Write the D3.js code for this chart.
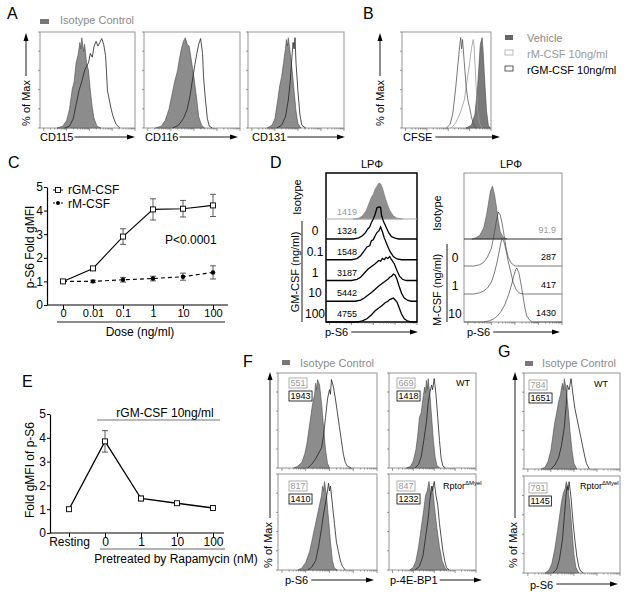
<!DOCTYPE html>
<html><head><meta charset="utf-8">
<script src="https://cdn.jsdelivr.net/npm/d3@7"></script>
<style>body{margin:0;background:#fff} svg{display:block} text{font-family:'Liberation Sans',Arial,sans-serif}</style>
</head><body><svg id="c" width="627" height="593"></svg>
<script>
// ---------- DATA ----------
// Panel C
const doses = ["0","0.01","0.1","1","10","100"];
const gmMean = [1.0,1.55,2.9,4.05,4.08,4.22];
const gmErr  = [0.03,0.07,0.33,0.45,0.35,0.47];
const mMean  = [1.0,1.0,1.07,1.12,1.2,1.38];
const mErr   = [0.03,0.05,0.1,0.1,0.15,0.28];
const yTicks = [0,1,2,3,4,5];
// Panel E
const rapaCats = ["Resting","0","1","10","100"];
const rapaMean = [1.0,3.85,1.45,1.25,1.05];
const rapaErr  = [0,0.45,0.1,0.04,0.03];
// Panel A histograms ([relative intensity, relative count])
const a1Iso = [[0.18,0],[0.24,0.02],[0.28,0.08],[0.31,0.2],[0.34,0.42],[0.36,0.5],[0.38,0.7],[0.4,0.78],[0.42,0.92],[0.43,0.85],[0.44,0.97],[0.46,0.82],[0.47,0.9],[0.49,0.7],[0.51,0.62],[0.53,0.4],[0.55,0.22],[0.57,0.1],[0.6,0.02],[0.64,0]];
const a1Ab  = [[0.26,0],[0.31,0.02],[0.35,0.1],[0.38,0.25],[0.41,0.4],[0.44,0.5],[0.47,0.62],[0.49,0.66],[0.51,0.7],[0.53,0.8],[0.55,0.76],[0.57,0.88],[0.59,0.93],[0.61,0.88],[0.63,0.92],[0.65,0.96],[0.67,0.9],[0.69,0.78],[0.7,0.6],[0.71,0.4],[0.73,0.3],[0.75,0.2],[0.77,0.12],[0.8,0.04],[0.84,0]];
const a2Iso = [[0.12,0],[0.18,0.02],[0.22,0.08],[0.26,0.2],[0.29,0.35],[0.32,0.5],[0.35,0.62],[0.37,0.75],[0.39,0.85],[0.41,0.93],[0.43,0.97],[0.45,0.9],[0.47,0.88],[0.49,0.75],[0.52,0.55],[0.55,0.3],[0.57,0.12],[0.6,0.03],[0.63,0]];
const a2Ab  = [[0.3,0],[0.36,0.03],[0.41,0.1],[0.45,0.2],[0.48,0.35],[0.51,0.55],[0.53,0.68],[0.55,0.8],[0.57,0.9],[0.59,0.96],[0.61,0.8],[0.62,0.55],[0.64,0.3],[0.66,0.1],[0.68,0.02],[0.71,0]];
const a3Iso = [[0.2,0],[0.25,0.03],[0.28,0.1],[0.31,0.3],[0.33,0.45],[0.35,0.55],[0.37,0.7],[0.39,0.85],[0.4,0.95],[0.41,0.88],[0.42,0.97],[0.44,0.8],[0.46,0.62],[0.48,0.4],[0.5,0.18],[0.52,0.05],[0.55,0]];
const a3Ab  = [[0.3,0],[0.35,0.03],[0.39,0.12],[0.42,0.3],[0.44,0.5],[0.46,0.8],[0.47,0.92],[0.48,0.85],[0.49,0.97],[0.5,0.7],[0.52,0.4],[0.54,0.15],[0.56,0.03],[0.6,0]];
// Panel B
const bGM  = [[0.5,0],[0.54,0.04],[0.57,0.15],[0.6,0.4],[0.63,0.7],[0.65,0.9],[0.66,0.97],[0.67,0.85],[0.68,0.95],[0.7,0.7],[0.72,0.45],[0.74,0.3],[0.76,0.22],[0.78,0.12],[0.8,0.05],[0.83,0]];
const bM   = [[0.55,0],[0.6,0.05],[0.65,0.15],[0.7,0.3],[0.73,0.5],[0.76,0.7],[0.78,0.85],[0.8,0.95],[0.81,0.88],[0.83,0.5],[0.85,0.2],[0.87,0.05],[0.9,0]];
const bVeh = [[0.72,0],[0.78,0.03],[0.82,0.15],[0.85,0.45],[0.87,0.75],[0.88,0.9],[0.9,0.97],[0.91,0.85],[0.93,0.5],[0.95,0.18],[0.97,0.03],[0.99,0]];
// Panel D
const dLeftRows = ["0","0.1","1","10","100"];
const dLeftVals = ["1324","1548","3187","5442","4755"];
const dLeftIsoVal = "1419";
const dLIso = [[0.3,0],[0.36,0.02],[0.4,0.08],[0.44,0.2],[0.47,0.38],[0.5,0.55],[0.52,0.62],[0.54,0.75],[0.56,0.82],[0.58,0.9],[0.6,0.88],[0.62,0.78],[0.64,0.62],[0.67,0.4],[0.7,0.22],[0.74,0.08],[0.78,0.02],[0.84,0]];
const dLCurves = [
 [[0.3,0],[0.36,0.03],[0.4,0.08],[0.43,0.15],[0.46,0.25],[0.48,0.3],[0.5,0.42],[0.52,0.5],[0.54,0.62],[0.56,0.78],[0.58,0.8],[0.6,0.79],[0.61,0.6],[0.63,0.45],[0.66,0.3],[0.69,0.15],[0.72,0.06],[0.76,0.02],[0.8,0]],
 [[0.28,0],[0.34,0.03],[0.38,0.1],[0.42,0.22],[0.45,0.32],[0.48,0.35],[0.5,0.48],[0.52,0.5],[0.54,0.6],[0.56,0.68],[0.58,0.72],[0.6,0.82],[0.62,0.7],[0.64,0.55],[0.67,0.38],[0.7,0.22],[0.74,0.08],[0.78,0.02],[0.83,0]],
 [[0.28,0],[0.34,0.03],[0.38,0.08],[0.42,0.18],[0.46,0.28],[0.5,0.35],[0.54,0.42],[0.58,0.5],[0.6,0.48],[0.62,0.55],[0.64,0.52],[0.66,0.58],[0.68,0.55],[0.7,0.6],[0.72,0.52],[0.75,0.42],[0.78,0.25],[0.81,0.1],[0.84,0.03],[0.88,0]],
 [[0.32,0],[0.38,0.03],[0.42,0.08],[0.46,0.15],[0.5,0.22],[0.54,0.3],[0.58,0.38],[0.62,0.45],[0.65,0.5],[0.68,0.55],[0.7,0.6],[0.72,0.62],[0.74,0.68],[0.76,0.65],[0.78,0.55],[0.8,0.4],[0.83,0.2],[0.86,0.08],[0.9,0.02],[0.94,0]],
 [[0.35,0],[0.4,0.03],[0.45,0.08],[0.5,0.18],[0.54,0.28],[0.58,0.35],[0.62,0.42],[0.65,0.48],[0.68,0.52],[0.7,0.56],[0.72,0.58],[0.74,0.6],[0.76,0.55],[0.78,0.5],[0.8,0.38],[0.83,0.2],[0.86,0.08],[0.9,0.02],[0.94,0]]
];
const dRightRows = ["0","1","10"];
const dRightVals = ["287","417","1430"];
const dRightIsoVal = "91.9";
const dRIso = [[0.08,0],[0.12,0.02],[0.16,0.06],[0.2,0.18],[0.23,0.4],[0.25,0.6],[0.27,0.8],[0.29,0.88],[0.31,0.75],[0.33,0.55],[0.35,0.3],[0.37,0.12],[0.4,0.03],[0.44,0]];
const dRCurves = [
 [[0.1,0],[0.16,0.02],[0.2,0.06],[0.24,0.15],[0.28,0.3],[0.31,0.55],[0.33,0.75],[0.35,0.9],[0.37,0.85],[0.39,0.7],[0.41,0.5],[0.43,0.3],[0.45,0.15],[0.48,0.05],[0.52,0]],
 [[0.1,0],[0.16,0.02],[0.2,0.05],[0.24,0.1],[0.28,0.2],[0.31,0.35],[0.34,0.55],[0.36,0.72],[0.38,0.88],[0.39,0.93],[0.41,0.86],[0.43,0.72],[0.45,0.55],[0.48,0.35],[0.5,0.2],[0.53,0.08],[0.56,0.02],[0.6,0]],
 [[0.2,0],[0.26,0.02],[0.3,0.05],[0.34,0.1],[0.38,0.18],[0.42,0.3],[0.46,0.48],[0.49,0.65],[0.51,0.78],[0.53,0.88],[0.54,0.9],[0.56,0.82],[0.58,0.65],[0.6,0.45],[0.62,0.25],[0.64,0.1],[0.67,0.03],[0.7,0]]
];
// Panel F / G
const fTLIso = [[0.16,0],[0.2,0.02],[0.24,0.06],[0.27,0.15],[0.29,0.25],[0.31,0.4],[0.33,0.55],[0.35,0.7],[0.37,0.8],[0.38,0.92],[0.39,0.85],[0.4,0.96],[0.42,0.9],[0.44,0.7],[0.46,0.45],[0.48,0.2],[0.5,0.05],[0.52,0]];
const fTLAb  = [[0.3,0],[0.34,0.04],[0.38,0.1],[0.42,0.18],[0.44,0.22],[0.46,0.35],[0.48,0.55],[0.5,0.75],[0.52,0.85],[0.53,0.8],[0.54,0.96],[0.56,0.88],[0.58,0.75],[0.6,0.6],[0.62,0.45],[0.64,0.3],[0.66,0.15],[0.68,0.06],[0.7,0.02],[0.74,0]];
const fTRIso = [[0.2,0],[0.25,0.02],[0.28,0.08],[0.31,0.2],[0.33,0.35],[0.35,0.55],[0.37,0.6],[0.39,0.75],[0.41,0.88],[0.42,0.82],[0.43,0.95],[0.44,0.85],[0.45,0.97],[0.47,0.8],[0.49,0.55],[0.51,0.3],[0.53,0.12],[0.55,0.03],[0.58,0]];
const fTRAb  = [[0.3,0],[0.34,0.04],[0.37,0.12],[0.4,0.3],[0.43,0.5],[0.45,0.7],[0.47,0.82],[0.49,0.9],[0.5,0.85],[0.52,0.97],[0.54,0.8],[0.56,0.55],[0.58,0.3],[0.6,0.1],[0.62,0.02],[0.65,0]];
const fBLIso = [[0.2,0],[0.24,0.02],[0.28,0.08],[0.32,0.2],[0.35,0.35],[0.38,0.5],[0.4,0.6],[0.42,0.7],[0.44,0.8],[0.45,0.9],[0.46,0.85],[0.47,0.95],[0.49,0.8],[0.51,0.55],[0.53,0.3],[0.55,0.1],[0.57,0.02],[0.6,0]];
const fBLAb  = [[0.3,0],[0.34,0.03],[0.38,0.1],[0.41,0.25],[0.44,0.45],[0.46,0.6],[0.48,0.72],[0.5,0.85],[0.51,0.93],[0.52,0.85],[0.53,0.9],[0.55,0.7],[0.57,0.5],[0.59,0.3],[0.61,0.2],[0.63,0.1],[0.65,0.04],[0.68,0]];
const fBRIso = [[0.24,0],[0.28,0.03],[0.31,0.1],[0.34,0.25],[0.37,0.45],[0.4,0.65],[0.42,0.8],[0.44,0.85],[0.46,0.95],[0.48,0.8],[0.5,0.9],[0.52,0.7],[0.55,0.45],[0.58,0.25],[0.61,0.1],[0.64,0.03],[0.67,0]];
const fBRAb  = [[0.3,0],[0.35,0.04],[0.39,0.15],[0.42,0.35],[0.45,0.55],[0.47,0.75],[0.49,0.9],[0.5,0.85],[0.52,0.95],[0.54,0.8],[0.56,0.7],[0.58,0.5],[0.6,0.35],[0.62,0.2],[0.64,0.1],[0.66,0.03],[0.69,0]];
const gTIso  = [[0.18,0],[0.22,0.02],[0.25,0.08],[0.28,0.2],[0.3,0.35],[0.32,0.5],[0.34,0.6],[0.36,0.72],[0.38,0.8],[0.4,0.92],[0.41,0.85],[0.42,0.97],[0.44,0.85],[0.46,0.65],[0.48,0.4],[0.5,0.2],[0.52,0.06],[0.55,0]];
const gTAb   = [[0.28,0],[0.32,0.04],[0.36,0.12],[0.39,0.25],[0.42,0.45],[0.44,0.7],[0.45,0.9],[0.47,0.85],[0.49,0.97],[0.51,0.8],[0.53,0.65],[0.55,0.55],[0.57,0.45],[0.59,0.35],[0.61,0.25],[0.63,0.15],[0.65,0.06],[0.68,0]];
const gBIso  = [[0.22,0],[0.26,0.03],[0.29,0.1],[0.32,0.25],[0.35,0.45],[0.37,0.6],[0.39,0.75],[0.41,0.85],[0.43,0.9],[0.44,0.97],[0.46,0.9],[0.48,0.7],[0.5,0.45],[0.52,0.2],[0.54,0.06],[0.57,0]];
const gBAb   = [[0.3,0],[0.34,0.04],[0.37,0.15],[0.4,0.35],[0.42,0.6],[0.44,0.85],[0.45,0.92],[0.46,0.88],[0.47,0.97],[0.49,0.8],[0.51,0.55],[0.53,0.35],[0.55,0.18],[0.57,0.07],[0.59,0.02],[0.62,0]];
const fNums = {TL:["551","1943"],TR:["669","1418"],BL:["817","1410"],BR:["847","1232"]};
const gNums = {T:["784","1651"],B:["791","1145"]};

// ---------- HELPERS ----------
const svg = d3.select("#c");
const ISO_FILL = "#8c8c8c", ISO_EDGE = "#4a4a4a";

function txt(x,y,s,o={}){
  const t = svg.append("text").attr("x",x).attr("y",y).text(s)
    .attr("font-size",o.size||11).attr("fill",o.fill||"#000")
    .attr("text-anchor",o.anchor||"start");
  if(o.rotate) t.attr("transform",`rotate(-90,${x},${y})`);
  if(o.weight) t.attr("font-weight",o.weight);
  return t;
}
function ln(x1,y1,x2,y2,o={}){
  return svg.append("line").attr("x1",x1).attr("y1",y1).attr("x2",x2).attr("y2",y2)
    .attr("stroke",o.stroke||"#000").attr("stroke-width",o.sw||1).attr("stroke-dasharray",o.dash||null);
}
function arrowH(x1,x2,y){
  ln(x1,y,x2-6,y,{sw:0.9});
  svg.append("path").attr("d",`M${x2},${y}L${x2-8},${y-2.5}L${x2-8},${y+2.5}Z`).attr("fill","#000");
}
function arrowV(x,y1,y2){
  ln(x,y1,x,y2+6,{sw:0.9});
  svg.append("path").attr("d",`M${x},${y2}L${x-2.5},${y2+8}L${x+2.5},${y2+8}Z`).attr("fill","#000");
}
function boxFrame(x0,y0,w,h,o={}){
  svg.append("rect").attr("x",x0).attr("y",y0).attr("width",w).attr("height",h)
    .attr("fill","none").attr("stroke",o.stroke||"#8a8a8a").attr("stroke-width",o.sw||0.9);
  const yt = d3.scaleLinear().domain([0,100]).range([y0+h,y0]);
  if(!o.noLeft) yt.ticks(5).forEach(v=>ln(x0-2,yt(v),x0,yt(v),{stroke:"#555",sw:0.6}));
  const xl = d3.scaleLog().domain([10,100000]).range([x0+w*0.04,x0+w]);
  xl.ticks().forEach(v=>{
    const major = Math.abs(Math.log10(v)-Math.round(Math.log10(v)))<1e-6;
    ln(xl(v),y0+h,xl(v),y0+h+(major?3:1.5),{stroke:"#555",sw:0.6});
  });
}
function drawHist(xs,ys,pts,o){
  const data = o.extend ? [[0,0],...pts,[1,0]] : pts;
  if(o.fill){
    svg.append("path").datum(data)
      .attr("d",d3.area().x(d=>xs(d[0])).y0(ys(0)).y1(d=>ys(d[1])))
      .attr("fill",o.fill).attr("stroke",o.edge||ISO_EDGE).attr("stroke-width",0.6);
  } else {
    svg.append("path").datum(data)
      .attr("d",d3.line().x(d=>xs(d[0])).y(d=>ys(d[1])))
      .attr("fill","none").attr("stroke",o.stroke||"#222").attr("stroke-width",o.sw||0.8);
  }
}
function overlayBox(x0,y0,w,h,iso,ab){
  boxFrame(x0,y0,w,h);
  const xs = d3.scaleLinear().domain([0,1]).range([x0,x0+w]);
  const ys = d3.scaleLinear().domain([0,1]).range([y0+h,y0+h-h*0.97]);
  drawHist(xs,ys,iso,{fill:ISO_FILL});
  drawHist(xs,ys,ab,{stroke:"#222",sw:0.8});
}
function numTag(x,y,s,col){
  const t = txt(x+1.5,y+8,s,{size:9,fill:col});
  const w = t.node().getComputedTextLength();
  svg.append("rect").attr("x",x).attr("y",y).attr("width",w+3).attr("height",10)
    .attr("fill","none").attr("stroke",col).attr("stroke-width",0.8);
}
function rptor(x,y){
  const t = svg.append("text").attr("x",x).attr("y",y).attr("font-size",9);
  t.append("tspan").text("Rptor");
  t.append("tspan").text("ΔMyel").attr("font-size",6).attr("dy",-4);
}

// ---------- PANEL A ----------
txt(7,19,"A",{size:16});
svg.append("rect").attr("x",40).attr("y",19).attr("width",9).attr("height",5).attr("fill","#777");
txt(60,24,"Isotype Control",{size:11,fill:"#8a8a8a"});
arrowV(26,76,33);
txt(30,103,"% of Max",{size:11,anchor:"middle",rotate:true});
overlayBox(40,32,95,96,a1Iso,a1Ab);
overlayBox(144,32,96,96,a2Iso,a2Ab);
overlayBox(248,32,96,96,a3Iso,a3Ab);
[["CD115",40,135],["CD116",145,238],["CD131",252,345]].forEach(([s,x,x2])=>{
  const t = txt(x,141,s,{size:11});
  arrowH(x+t.node().getComputedTextLength()+1,x2,137);
});

// ---------- PANEL B ----------
txt(363,19,"B",{size:16});
arrowV(380,76,33);
txt(384,103,"% of Max",{size:11,anchor:"middle",rotate:true});
{
  const x0=402,y0=32,w=89,h=96;
  boxFrame(x0,y0,w,h);
  const xs=d3.scaleLinear().domain([0,1]).range([x0,x0+w]);
  const ys=d3.scaleLinear().domain([0,1]).range([y0+h,y0+h-h*0.97]);
  drawHist(xs,ys,bVeh,{fill:"#7a7a7a"});
  drawHist(xs,ys,bM,{stroke:"#9a9a9a",sw:0.8});
  drawHist(xs,ys,bGM,{stroke:"#555",sw:0.8});
  const t = txt(403,141,"CFSE",{size:11});
  arrowH(403+t.node().getComputedTextLength()+3,500,137);
}
svg.append("rect").attr("x",505).attr("y",35).attr("width",8).attr("height",5).attr("fill","#666");
svg.append("rect").attr("x",505).attr("y",50).attr("width",8).attr("height",5).attr("fill","none").attr("stroke","#aaa").attr("stroke-width",0.8);
svg.append("rect").attr("x",505).attr("y",66).attr("width",8).attr("height",5).attr("fill","none").attr("stroke","#333").attr("stroke-width",0.8);
txt(527,42,"Vehicle",{size:11,fill:"#8a8a8a"});
txt(527,58,"rM-CSF 10ng/ml",{size:11,fill:"#999"});
txt(527,74,"rGM-CSF 10ng/ml",{size:11,fill:"#000"});

// ---------- PANEL C ----------
txt(8,168,"C",{size:16});
{
  const cx = d3.scalePoint().domain(doses).range([63,213]);
  const cy = d3.scaleLinear().domain([0,5]).range([305,187]);
  const ya = svg.append("g").attr("transform","translate(47,0)")
    .call(d3.axisLeft(cy).tickValues(yTicks).tickFormat(d3.format("d")).tickSize(3).tickSizeOuter(0).tickPadding(1));
  ya.selectAll("text").attr("font-size",12).attr("font-family","'Liberation Sans',Arial,sans-serif");
  ya.select(".domain").attr("stroke-width",1.2);
  const xa = svg.append("g").attr("transform","translate(0,305)")
    .call(d3.axisBottom(cx).tickSize(4).tickPadding(0));
  xa.select(".domain").remove();
  xa.selectAll("text").attr("font-size",11).attr("font-family","'Liberation Sans',Arial,sans-serif");
  ln(47,305,228,305,{sw:1.2});
  ln(57,322,225,322,{sw:0.9});
  txt(140,336,"Dose (ng/ml)",{size:12,anchor:"middle"});
  txt(34,247,"p-S6 Fold gMFI",{size:12,anchor:"middle",rotate:true});
  const eb=(m,e)=>doses.forEach((d,i)=>{
    if(e[i]<0.05) return;
    ln(cx(d),cy(m[i]-e[i]),cx(d),cy(m[i]+e[i]),{sw:0.8,stroke:"#333"});
    ln(cx(d)-3,cy(m[i]+e[i]),cx(d)+3,cy(m[i]+e[i]),{sw:0.8,stroke:"#333"});
    ln(cx(d)-3,cy(m[i]-e[i]),cx(d)+3,cy(m[i]-e[i]),{sw:0.8,stroke:"#333"});
  });
  eb(gmMean,gmErr); eb(mMean,mErr);
  const lg = d3.line().x((d,i)=>cx(doses[i])).y(d=>cy(d));
  svg.append("path").datum(mMean).attr("d",lg).attr("fill","none").attr("stroke","#000").attr("stroke-width",1.1).attr("stroke-dasharray","4,3");
  svg.append("path").datum(gmMean).attr("d",lg).attr("fill","none").attr("stroke","#000").attr("stroke-width",1.1);
  svg.selectAll(".mdot").data(mMean).join("circle").attr("cx",(d,i)=>cx(doses[i])).attr("cy",d=>cy(d)).attr("r",2.2).attr("fill","#000");
  svg.selectAll(".gsq").data(gmMean).join("rect").attr("x",(d,i)=>cx(doses[i])-2.5).attr("y",d=>cy(d)-2.5).attr("width",5).attr("height",5).attr("fill","#fff").attr("stroke","#000").attr("stroke-width",0.9);
  ln(53,190,63,190,{sw:1}); svg.append("rect").attr("x",55.5).attr("y",187.5).attr("width",5).attr("height",5).attr("fill","#fff").attr("stroke","#000").attr("stroke-width",0.9);
  txt(68,194,"rGM-CSF",{size:12});
  ln(53,203,63,203,{sw:1,dash:"2,2"}); svg.append("circle").attr("cx",58).attr("cy",203).attr("r",2).attr("fill","#000");
  txt(68,208,"rM-CSF",{size:12});
  txt(165,244,"P<0.0001",{size:12});
}

// ---------- PANEL D ----------
txt(270,168,"D",{size:16});
txt(372,168,"LPΦ",{size:11,anchor:"middle"});
txt(511,168,"LPΦ",{size:11,anchor:"middle"});
{
  const x0=326,w=91,top=173,isoBase=219,bottom=322;
  const rowY = d3.scalePoint().domain(dLeftRows).range([239,322]);
  const xs = d3.scaleLinear().domain([0,1]).range([x0,x0+w]);
  boxFrame(x0,top,w,bottom-top,{stroke:"#000",sw:1.5,noLeft:true});
  const ysIso = d3.scaleLinear().domain([0,1]).range([isoBase,isoBase-40]);
  drawHist(xs,ysIso,dLIso,{fill:"#8f8f8f",edge:"#777"});
  ln(x0,isoBase,x0+w,isoBase,{stroke:"#aaa",sw:1});
  dLeftRows.forEach((r,i)=>{
    const b=rowY(r);
    const ys=d3.scaleLinear().domain([0,1]).range([b,b-40]);
    drawHist(xs,ys,dLCurves[i],{stroke:"#000",sw:1.3,extend:true});
    txt(337,b-5,dLeftVals[i],{size:9});
    txt(315,b-4,r,{size:12,anchor:"middle"});
  });
  txt(337,215,dLeftIsoVal,{size:9,fill:"#999"});
  txt(301,197,"Isotype",{size:11,anchor:"middle",rotate:true});
  ln(302,221,302,322,{sw:0.9});
  txt(299,272,"GM-CSF (ng/ml)",{size:11,anchor:"middle",rotate:true});
  const t=txt(325,336,"p-S6",{size:11});
  arrowH(325+t.node().getComputedTextLength()+3,418,332);
}
{
  const x0=464,w=98,top=173,isoBase=239,bottom=322;
  const rowY = d3.scalePoint().domain(dRightRows).range([266,322]);
  const xs = d3.scaleLinear().domain([0,1]).range([x0,x0+w]);
  boxFrame(x0,top,w,bottom-top,{stroke:"#888",sw:0.9,noLeft:true});
  const ysIso = d3.scaleLinear().domain([0,1]).range([isoBase,isoBase-60]);
  drawHist(xs,ysIso,dRIso,{fill:"#8f8f8f",edge:"#555"});
  ln(x0,isoBase,x0+w,isoBase,{stroke:"#333",sw:1});
  dRightRows.forEach((r,i)=>{
    const b=rowY(r);
    const ys=d3.scaleLinear().domain([0,1]).range([b,b-60]);
    drawHist(xs,ys,dRCurves[i],{stroke:"#444",sw:0.7,extend:true});
    txt(556,b-6,dRightVals[i],{size:9,anchor:"end"});
    txt(455,b-4,r,{size:12,anchor:"middle"});
  });
  txt(556,233,dRightIsoVal,{size:9,fill:"#999",anchor:"end"});
  txt(441,213,"Isotype",{size:11,anchor:"middle",rotate:true});
  ln(447,244,447,322,{sw:0.9});
  txt(441,290,"M-CSF (ng/ml)",{size:11,anchor:"middle",rotate:true});
  const t=txt(467,336,"p-S6",{size:11});
  arrowH(467+t.node().getComputedTextLength()+3,560,332);
}

// ---------- PANEL E ----------
txt(22,387,"E",{size:16});
{
  const ex = d3.scalePoint().domain(rapaCats).range([69,213]);
  const ey = d3.scaleLinear().domain([0,5]).range([533,414]);
  const ya = svg.append("g").attr("transform","translate(50,0)")
    .call(d3.axisLeft(ey).tickValues(yTicks).tickFormat(d3.format("d")).tickSize(3).tickSizeOuter(0).tickPadding(1));
  ya.selectAll("text").attr("font-size",12).attr("font-family","'Liberation Sans',Arial,sans-serif");
  ya.select(".domain").attr("stroke-width",1.2);
  const xa = svg.append("g").attr("transform","translate(0,533)")
    .call(d3.axisBottom(ex).tickSize(4).tickPadding(0));
  xa.select(".domain").remove();
  xa.selectAll("text").attr("font-size",12).attr("font-family","'Liberation Sans',Arial,sans-serif");
  ln(50,533,224,533,{sw:1.2});
  ln(100,549,225,549,{sw:0.9,stroke:"#555"});
  ln(97,420,220,420,{sw:1,stroke:"#777"});
  txt(165,417,"rGM-CSF 10ng/ml",{size:12,anchor:"middle"});
  txt(176,563,"Pretreated by Rapamycin (nM)",{size:12,anchor:"middle"});
  txt(34,470,"Fold gMFI of p-S6",{size:12,anchor:"middle",rotate:true});
  rapaCats.forEach((c,i)=>{
    if(rapaErr[i]<0.05) return;
    ln(ex(c),ey(rapaMean[i]-rapaErr[i]),ex(c),ey(rapaMean[i]+rapaErr[i]),{sw:0.8,stroke:"#333"});
    ln(ex(c)-3,ey(rapaMean[i]+rapaErr[i]),ex(c)+3,ey(rapaMean[i]+rapaErr[i]),{sw:0.8,stroke:"#333"});
    ln(ex(c)-3,ey(rapaMean[i]-rapaErr[i]),ex(c)+3,ey(rapaMean[i]-rapaErr[i]),{sw:0.8,stroke:"#333"});
  });
  svg.append("path").datum(rapaMean).attr("d",d3.line().x((d,i)=>ex(rapaCats[i])).y(d=>ey(d)))
    .attr("fill","none").attr("stroke","#000").attr("stroke-width",1.3);
  svg.selectAll(".esq").data(rapaMean).join("rect").attr("x",(d,i)=>ex(rapaCats[i])-2.5).attr("y",d=>ey(d)-2.5)
    .attr("width",5).attr("height",5).attr("fill","#fff").attr("stroke","#000").attr("stroke-width",0.9);
}

// ---------- PANEL F ----------
txt(243,367,"F",{size:16});
svg.append("rect").attr("x",282).attr("y",360).attr("width",8).attr("height",5).attr("fill","#777");
txt(300,367,"Isotype Control",{size:11,fill:"#8a8a8a"});
arrowV(270,518,372);
txt(272,545,"% of Max",{size:11,anchor:"middle",rotate:true});
overlayBox(278,373,99,95,fTLIso,fTLAb);
overlayBox(389,373,87,95,fTRIso,fTRAb);
overlayBox(278,474,99,96,fBLIso,fBLAb);
overlayBox(389,474,87,96,fBRIso,fBRAb);
numTag(289,378,fNums.TL[0],"#999"); numTag(289,391,fNums.TL[1],"#000");
numTag(397,378,fNums.TR[0],"#999"); numTag(397,391,fNums.TR[1],"#000");
numTag(289,481,fNums.BL[0],"#999"); numTag(289,494,fNums.BL[1],"#000");
numTag(397,481,fNums.BR[0],"#999"); numTag(397,494,fNums.BR[1],"#000");
txt(456,386,"WT",{size:9});
rptor(443,489);
{
  const t=txt(285,584,"p-S6",{size:11});
  arrowH(285+t.node().getComputedTextLength()+3,374,580);
  const t2=txt(390,584,"p-4E-BP1",{size:11});
  arrowH(390+t2.node().getComputedTextLength()+2,482,580);
}

// ---------- PANEL G ----------
txt(498,357,"G",{size:16});
svg.append("rect").attr("x",525).attr("y",361).attr("width",8).attr("height",5).attr("fill","#777");
txt(542,367,"Isotype Control",{size:11,fill:"#8a8a8a"});
arrowV(515,518,372);
txt(517,545,"% of Max",{size:11,anchor:"middle",rotate:true});
overlayBox(524,373,96,96,gTIso,gTAb);
overlayBox(524,476,96,97,gBIso,gBAb);
numTag(529,380,gNums.T[0],"#999"); numTag(529,393,gNums.T[1],"#000");
numTag(529,483,gNums.B[0],"#999"); numTag(529,496,gNums.B[1],"#000");
txt(594,387,"WT",{size:9});
rptor(580,489);
{
  const t=txt(530,589,"p-S6",{size:11});
  arrowH(530+t.node().getComputedTextLength()+3,618,584);
}
</script></body></html>
